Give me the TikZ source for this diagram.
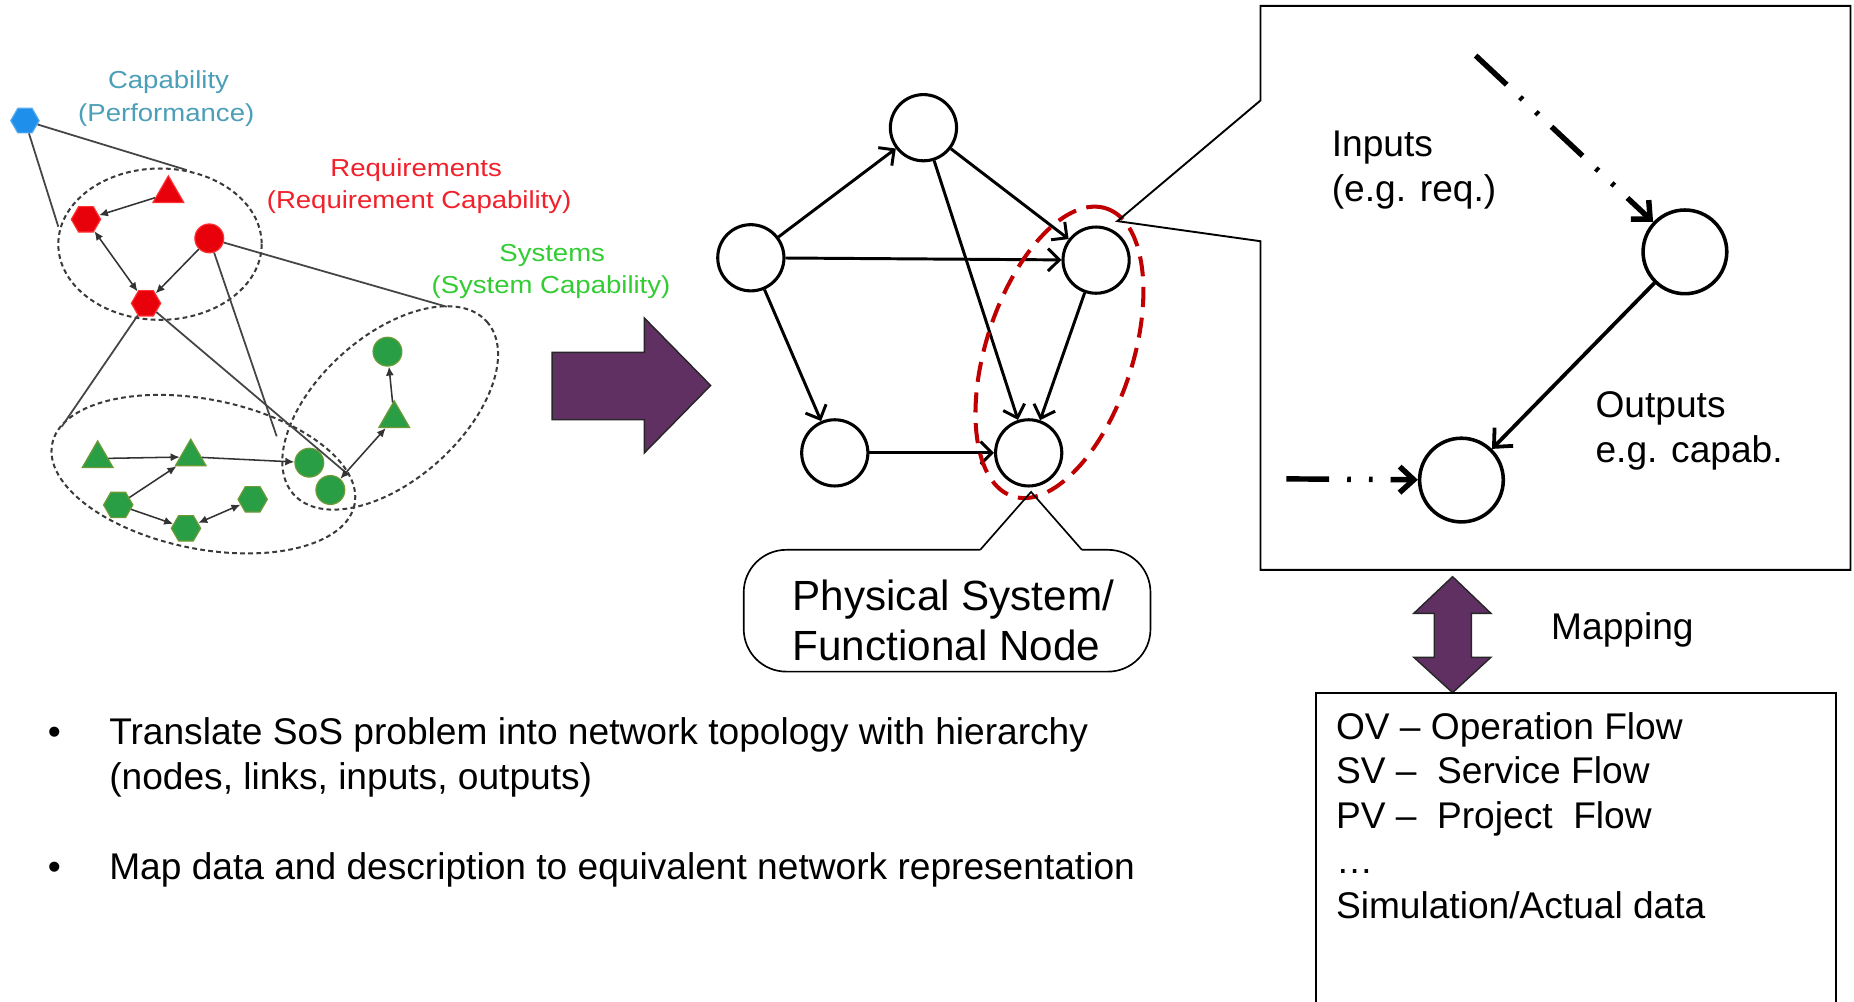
\documentclass[tikz,border=0pt]{standalone}
\usepackage{fontspec}
\setmainfont{Liberation Sans}
\newfontfamily\lblfont[FakeStretch=1.12]{Liberation Sans}
\usetikzlibrary{arrows.meta,shapes.geometric}
\definecolor{plum}{HTML}{603062}
\definecolor{capcol}{HTML}{4C9FB8}
\definecolor{reqcol}{HTML}{F2202A}
\definecolor{syscol}{HTML}{33CC33}
\definecolor{rednode}{HTML}{E8000B}
\definecolor{redrim}{HTML}{FF3030}
\definecolor{greennode}{HTML}{2A9E45}
\definecolor{greenrim}{HTML}{6E9A35}
\definecolor{bluenode}{HTML}{1E8FEA}
\definecolor{bluerim}{HTML}{55AAF0}
\definecolor{darkred}{HTML}{C00000}
\definecolor{clusgray}{HTML}{3A3A3A}
\definecolor{linegray}{HTML}{454545}
\tikzset{
  shp/.style={inner sep=0pt, line width=0.5pt},
  rhex/.style={shp, regular polygon, regular polygon sides=6, minimum size=12.4pt, fill=rednode, draw=redrim},
  rcirc/.style={shp, circle, minimum size=12.2pt, fill=rednode, draw=redrim},
  rtri/.style={shp, regular polygon, regular polygon sides=3, minimum size=15pt, fill=rednode, draw=redrim},
  ghex/.style={shp, regular polygon, regular polygon sides=6, minimum size=12.4pt, fill=greennode, draw=greenrim},
  gcirc/.style={shp, circle, minimum size=12.2pt, fill=greennode, draw=greenrim},
  gtri/.style={shp, regular polygon, regular polygon sides=3, minimum size=15pt, fill=greennode, draw=greenrim},
  bhex/.style={shp, regular polygon, regular polygon sides=6, minimum size=12pt, fill=bluenode, draw=bluerim},
  clus/.style={draw=clusgray, line width=0.85pt, dash pattern=on 2pt off 1.4pt},
  grayline/.style={draw=linegray, line width=0.75pt},
  sarr/.style={draw=black!80, line width=0.65pt, -{Latex[length=3.8pt,width=3.4pt]}},
  sarrb/.style={draw=black!80, line width=0.65pt, {Latex[length=3.8pt,width=3.4pt]}-{Latex[length=3.8pt,width=3.4pt]}},
  lbl/.style={anchor=base, inner sep=0pt, font=\lblfont\fontsize{10.4}{12}\selectfont},
  midnode/.style={circle, draw, line width=1.3pt, minimum size=28pt, inner sep=0pt, fill=white},
  marrow/.style={line width=1.25pt, -{Straight Barb[length=4.8pt,width=9.5pt]}},
  bignode/.style={circle, draw, line width=1.5pt, minimum size=35.4pt, inner sep=0pt, fill=white},
  bigarrow/.style={line width=1.6pt, -{Straight Barb[length=6pt,width=11pt]}},
  ddarrow/.style={line width=2.3pt, dash pattern=on 18pt off 7.7pt on 1.5pt off 7.7pt on 1.5pt off 7.6pt, -{Straight Barb[length=6pt,width=11pt]}},
  purp/.style={fill=plum, draw=black!85, line width=0.6pt},
  txt/.style={anchor=base west, inner sep=0pt, font=\fontsize{15.7}{19}\selectfont},
  ctxt/.style={anchor=base west, inner sep=0pt, font=\fontsize{17.85}{21}\selectfont},
  bul/.style={anchor=base, inner sep=0pt, font=\fontsize{15.7}{19}\selectfont},
}
\begin{document}
\begin{tikzpicture}[x=0.5pt,y=-0.5pt]
\useasboundingbox (0,0) rectangle (1568,847);
\fill[white] (0,0) rectangle (1568,847);

% ---------------- left cluster -----------------
\draw[clus] (135.3,206.5) ellipse [x radius=86, y radius=64];
\draw[clus, rotate around={-11.3:(172,401)}] (172,401) ellipse [x radius=130.4, y radius=63.2];
\draw[clus, rotate around={41.8:(330,345)}] (330,345) ellipse [x radius=109.6, y radius=60.9];

\coordinate (rqL) at (49.3,191.7);
\coordinate (rqT) at (157.9,143.8);
\coordinate (syT) at (377.8,259.4);
\coordinate (syL) at (234,369);
\coordinate (btL) at (52.2,360.8);
\coordinate (btR) at (293.2,400.3);

\node[bhex] (cap) at (21.1,102) {};
\node[rtri] (r1) at (142.4,163.7) {};
\node[rhex] (r2) at (72.7,185.5) {};
\node[rcirc] (r3) at (177,201.6) {};
\node[rhex] (r4) at (123.5,256.5) {};

\node[gcirc] (g1) at (327.7,297.4) {};
\node[gtri] (g2) at (333.4,354) {};
\node[gcirc] (g3) at (261.6,391.3) {};
\node[gcirc] (g4) at (279.4,414.4) {};
\node[gtri] (g5) at (82.6,387.8) {};
\node[gtri] (g6) at (161.3,386.4) {};
\node[ghex] (g7) at (100,427) {};
\node[ghex] (g8) at (157.3,446.8) {};
\node[ghex] (g9) at (213.7,422.3) {};

\draw[grayline] (cap) -- (rqL);
\draw[grayline] (cap) -- (rqT);
\draw[grayline] (r3) -- (syT);
\draw[grayline] (r3) -- (syL);
\draw[grayline] (r4) -- (btL);
\draw[grayline] (r4) -- (btR);

\draw[sarr] (r1) -- (r2);
\draw[sarrb] (r2) -- (r4);
\draw[sarr] (r3) -- (r4);
\draw[sarr] (g5) -- (g6);
\draw[sarr] (g6) -- (g3);
\draw[sarr] (g7) -- (g6);
\draw[sarr] (g7) -- (g8);
\draw[sarrb] (g8) -- (g9);
\draw[sarrb] (g4) -- (g2);
\draw[sarr] (g2) -- (g1);

\node[lbl, text=capcol] (capA) at (142.5,74.7) {Capability};
\node[lbl, text=capcol] (capB) at (140.6,102.9) {(Performance)};
\node[lbl, text=reqcol] (reqA) at (352,149.4) {Requirements};
\node[lbl, text=reqcol] (reqB) at (354.5,176.2) {(Requirement Capability)};
\node[lbl, text=syscol] (sysA) at (467,221.3) {Systems};
\node[lbl, text=syscol] (sysB) at (466,248) {(System Capability)};

% ---------------- big purple arrow -----------------
\draw[purp] (467,298) -- (545,298) -- (545,269) -- (601,326) -- (545,383) -- (545,355) -- (467,355) -- cycle;

% ---------------- middle graph -----------------
\node[midnode] (n1) at (635,218) {};
\node[midnode] (n2) at (781,108) {};
\node[midnode] (n3) at (927,220) {};
\node[midnode] (n4) at (706,383) {};
\node[midnode] (n5) at (870,383) {};
\draw[marrow] (n1) -- (n2);
\draw[marrow] (n1) -- (n3);
\draw[marrow] (n1) -- (n4);
\draw[marrow] (n2) -- (n3);
\draw[marrow] (n2) -- (n5);
\draw[marrow] (n3) -- (n5);
\draw[marrow] (n4) -- (n5);
\draw[darkred, line width=1.7pt, dash pattern=on 8.5pt off 4.5pt, rotate around={72:(896,298)}] (896,298) ellipse [x radius=128, y radius=62];

% callout: physical system
\coordinate (pTip) at (872,416);
\coordinate (pL) at (829,465);
\coordinate (pR) at (915,465);
\draw[line width=0.7pt, rounded corners=18] (pL) -- (629,465) -- (629,568) -- (973,568) -- (973,465) -- (pR);
\draw[line width=0.7pt] (pL) -- (pTip) -- (pR);
\node[ctxt] (ps1) at (670,516) {Physical System/};
\node[ctxt] (ps2) at (670,559) {Functional Node};

% ---------------- right callout box -----------------
\draw[line width=0.8pt] (1066,85) -- (1066,5) -- (1565,5) -- (1565,482) -- (1066,482) -- (1066,204) -- (945,187) -- cycle;
\node[bignode] (i1) at (1425,213) {};
\node[bignode] (i2) at (1236,406) {};
\coordinate (inA) at (1248,47);
\coordinate (inB) at (1088,405);
\draw[ddarrow] (inA) -- (i1);
\draw[ddarrow] (inB) -- (i2);
\draw[bigarrow] (i1) -- (i2);
\node[txt] (inp1) at (1126,132) {Inputs};
\node[txt] (inp2) at (1126,170) {(e.g. req.)};
\node[txt] (out1) at (1349,353) {Outputs};
\node[txt] (out2) at (1349,391) {e.g. capab.};

% ---------------- mapping -----------------
\draw[purp] (1228.5,487.7) -- (1260.9,518.7) -- (1244.4,518.7) -- (1244.4,555.9) -- (1260.9,555.9) -- (1228.5,585.8) -- (1195.7,555.9) -- (1213,555.9) -- (1213,518.7) -- (1195.7,518.7) -- cycle;
\node[txt] (map) at (1311.5,541) {Mapping};

\draw[line width=0.8pt] (1113,847) -- (1113,586) -- (1553,586) -- (1553,847);
\node[txt] (b1) at (1129.5,625) {OV -- Operation Flow};
\node[txt] (b2) at (1129.5,663) {SV --\ \ Service Flow};
\node[txt] (b3) at (1129.5,701) {PV --\ \ Project\ \ Flow};
\node[txt] (b4) at (1129.5,739) {…};
\node[txt] (b5) at (1129.5,777) {Simulation/Actual data};

% ---------------- bullets -----------------
\node[bul] (d1) at (46,630) {•};
\node[txt] (t1) at (92,630) {Translate SoS problem into network topology with hierarchy};
\node[txt] (t2) at (92,668) {(nodes, links, inputs, outputs)};
\node[bul] (d2) at (46,744) {•};
\node[txt] (t3) at (92,744) {Map data and description to equivalent network representation};
\end{tikzpicture}
\end{document}
